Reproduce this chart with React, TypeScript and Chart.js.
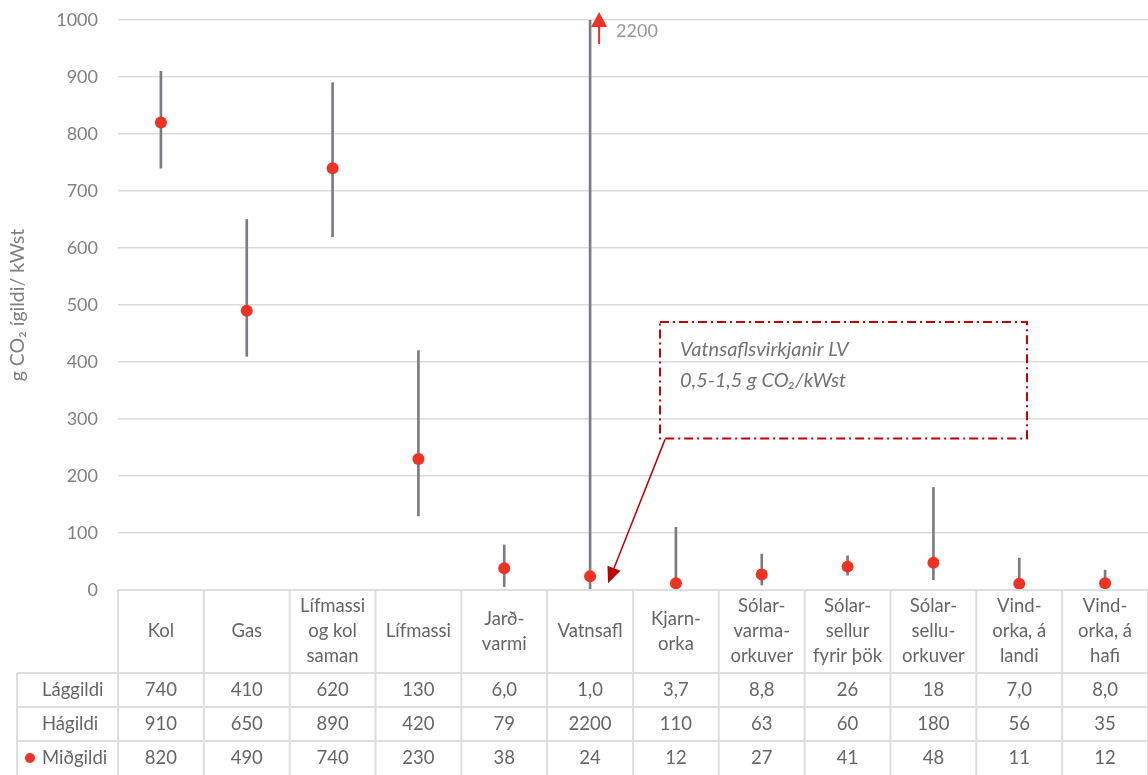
import React, { useEffect, useRef } from 'react';
import { Chart, registerables } from 'chart.js';

Chart.register(...registerables);

const categories: string[][] = [
  ['Kol'],
  ['Gas'],
  ['Lífmassi', 'og kol', 'saman'],
  ['Lífmassi'],
  ['Jarð-', 'varmi'],
  ['Vatnsafl'],
  ['Kjarn-', 'orka'],
  ['Sólar-', 'varma-', 'orkuver'],
  ['Sólar-', 'sellur', 'fyrir þök'],
  ['Sólar-', 'sellu-', 'orkuver'],
  ['Vind-', 'orka, á', 'landi'],
  ['Vind-', 'orka, á', 'hafi'],
];
const lowValues = [740, 410, 620, 130, 6.0, 1.0, 3.7, 8.8, 26, 18, 7.0, 8.0];
const highValues = [910, 650, 890, 420, 79, 2200, 110, 63, 60, 180, 56, 35];
const medianValues = [820, 490, 740, 230, 38, 24, 12, 27, 41, 48, 11, 12];
const rowLabels = ['Lággildi', 'Hágildi', 'Miðgildi'];
const yTitle = 'g CO₂ ígildi/ kWst';
const annotationLines = ['Vatnsaflsvirkjanir LV', '0,5-1,5 g CO₂/kWst'];

const FONT = 'Lato, "Open Sans", "Liberation Sans", sans-serif';
const RED = '#ee3224';
const DARKRED = '#c00000';
const BAR = '#7b7b84';
const TEXT = '#666666';
const GRID = '#dcdcdc';

const fmt = (v: number) => (v < 10 ? v.toFixed(1).replace('.', ',') : String(v));

const overlayPlugin = {
  id: 'overlay',
  afterDraw(chart: any) {
    const { ctx, chartArea } = chart;
    const xs = chart.scales.x;
    const ys = chart.scales.y;
    const n = categories.length;
    const w = xs.getPixelForValue(1) - xs.getPixelForValue(0);
    const left = chartArea.left;
    const right = chartArea.right;
    const top = chartArea.bottom;
    const headerBottom = top + 83;
    const rowH = (chart.height - headerBottom) / 3;
    const tableLeft = 17;

    ctx.save();
    // table lines
    ctx.strokeStyle = '#dedede';
    ctx.lineWidth = 2;
    ctx.beginPath();
    ctx.moveTo(left, top);
    ctx.lineTo(right, top);
    for (let r = 0; r < 3; r++) {
      const y = headerBottom + r * rowH;
      ctx.moveTo(tableLeft, y);
      ctx.lineTo(right, y);
    }
    for (let i = 0; i <= n; i++) {
      const x = left + i * w;
      ctx.moveTo(x, top);
      ctx.lineTo(x, chart.height);
    }
    ctx.moveTo(tableLeft, headerBottom);
    ctx.lineTo(tableLeft, chart.height);
    ctx.stroke();

    // header text
    ctx.fillStyle = TEXT;
    ctx.font = `18.5px ${FONT}`;
    ctx.textAlign = 'center';
    ctx.textBaseline = 'middle';
    const headMid = (top + headerBottom) / 2;
    const lh = 25;
    categories.forEach((lines, i) => {
      const x = xs.getPixelForValue(i);
      const start = headMid - ((lines.length - 1) * lh) / 2;
      lines.forEach((t, k) => ctx.fillText(t, x, start + k * lh));
    });

    // rows
    const rows = [lowValues, highValues, medianValues];
    rows.forEach((vals, r) => {
      const y = headerBottom + r * rowH + rowH / 2;
      ctx.textAlign = 'left';
      ctx.fillText(rowLabels[r], 42, y);
      ctx.textAlign = 'center';
      vals.forEach((v, i) => ctx.fillText(fmt(v), xs.getPixelForValue(i), y));
    });
    // legend dot
    ctx.fillStyle = RED;
    ctx.beginPath();
    ctx.arc(30, headerBottom + 2.5 * rowH, 5, 0, Math.PI * 2);
    ctx.fill();

    // overflow marker
    highValues.forEach((v, i) => {
      if (v > ys.max) {
        const x = xs.getPixelForValue(i) + 9;
        const t = chartArea.top;
        ctx.fillStyle = RED;
        ctx.beginPath();
        ctx.moveTo(x, t - 8);
        ctx.lineTo(x + 8, t + 7);
        ctx.lineTo(x - 8, t + 7);
        ctx.closePath();
        ctx.fill();
        ctx.strokeStyle = RED;
        ctx.lineWidth = 2;
        ctx.beginPath();
        ctx.moveTo(x, t + 6);
        ctx.lineTo(x, t + 24);
        ctx.stroke();
        ctx.fillStyle = '#999999';
        ctx.font = `18px ${FONT}`;
        ctx.textAlign = 'left';
        ctx.textBaseline = 'middle';
        ctx.fillText(String(v), x + 17, t + 11);
      }
    });

    // annotation box
    const bx0 = xs.getPixelForValue(5.815);
    const bx1 = xs.getPixelForValue(10.09);
    const by0 = ys.getPixelForValue(470);
    const by1 = ys.getPixelForValue(266);
    ctx.strokeStyle = DARKRED;
    ctx.lineWidth = 2;
    ctx.setLineDash([9, 4, 2, 4]);
    ctx.strokeRect(bx0, by0, bx1 - bx0, by1 - by0);
    ctx.setLineDash([]);
    ctx.fillStyle = '#737373';
    ctx.font = `italic 20px ${FONT}`;
    ctx.textAlign = 'left';
    ctx.textBaseline = 'middle';
    ctx.fillText(annotationLines[0], bx0 + 20, by0 + 27);
    ctx.fillText(annotationLines[1], bx0 + 20, by0 + 58);

    // arrow to Vatnsafl
    const ax0 = bx0 + 5;
    const ay0 = by1 + 1;
    const ax1 = xs.getPixelForValue(5) + 18;
    const ay1 = ys.getPixelForValue(12);
    const ang = Math.atan2(ay1 - ay0, ax1 - ax0);
    const hl = 16;
    const hw = 7;
    const bxh = ax1 - hl * Math.cos(ang);
    const byh = ay1 - hl * Math.sin(ang);
    ctx.strokeStyle = DARKRED;
    ctx.lineWidth = 1.5;
    ctx.beginPath();
    ctx.moveTo(ax0, ay0);
    ctx.lineTo(bxh, byh);
    ctx.stroke();
    ctx.fillStyle = DARKRED;
    ctx.beginPath();
    ctx.moveTo(ax1, ay1);
    ctx.lineTo(bxh + hw * Math.sin(ang), byh - hw * Math.cos(ang));
    ctx.lineTo(bxh - hw * Math.sin(ang), byh + hw * Math.cos(ang));
    ctx.closePath();
    ctx.fill();
    ctx.restore();
  },
};

export default function App() {
  const ref = useRef<HTMLCanvasElement>(null);
  useEffect(() => {
    document.body.style.margin = '0';
    const labels = categories.map((c) => c.join(' '));
    const chart = new Chart(ref.current as HTMLCanvasElement, {
      type: 'bar',
      data: {
        labels,
        datasets: [
          {
            type: 'line',
            data: medianValues,
            showLine: false,
            pointRadius: 6,
            pointHoverRadius: 6,
            pointBackgroundColor: RED,
            pointBorderWidth: 0,
            borderColor: RED,
            order: 0,
          } as any,
          {
            type: 'bar',
            data: lowValues.map((l, i) => [l, highValues[i]]),
            backgroundColor: BAR,
            barThickness: 2,
            order: 1,
          } as any,
        ],
      },
      options: {
        animation: false,
        responsive: false,
        layout: { autoPadding: false, padding: { top: 20, bottom: 185, left: 0, right: 0 } },
        plugins: { legend: { display: false }, tooltip: { enabled: false } },
        scales: {
          x: { display: false, offset: true },
          y: {
            min: 0,
            max: 1000,
            ticks: {
              stepSize: 100,
              color: '#808080',
              font: { size: 18, family: FONT },
              padding: 20,
              callback: (v: any) => String(v),
            },
            grid: { color: GRID, lineWidth: 1.5, drawTicks: false },
            border: { display: false },
            title: {
              display: true,
              text: yTitle,
              color: '#7f7f7f',
              font: { size: 19.5, family: FONT },
              padding: { top: 6, bottom: 0 },
            },
            afterFit: (s: any) => {
              s.width = 118;
              s.paddingTop = 0;
              s.paddingBottom = 0;
            },
          },
        },
      },
      plugins: [overlayPlugin],
    });
    return () => chart.destroy();
  }, []);
  return (
    <div style={{ width: 1148, height: 775 }}>
      <canvas ref={ref} width={1148} height={775} style={{ display: 'block' }} />
    </div>
  );
}
